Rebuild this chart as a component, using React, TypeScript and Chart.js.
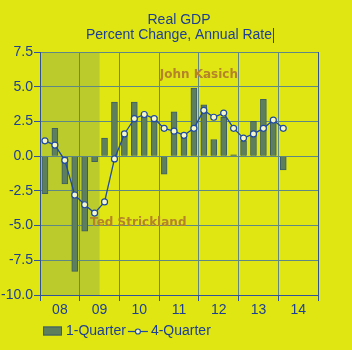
import React, { useEffect, useRef } from "react";
import { Chart, registerables } from "chart.js";

Chart.register(...registerables);

const quarters = [
  "2008Q1", "2008Q2", "2008Q3", "2008Q4",
  "2009Q1", "2009Q2", "2009Q3", "2009Q4",
  "2010Q1", "2010Q2", "2010Q3", "2010Q4",
  "2011Q1", "2011Q2", "2011Q3", "2011Q4",
  "2012Q1", "2012Q2", "2012Q3", "2012Q4",
  "2013Q1", "2013Q2", "2013Q3", "2013Q4",
  "2014Q1", "2014Q2", "2014Q3", "2014Q4",
];
const yearLabels = ["08", "09", "10", "11", "12", "13", "14"];

const oneQuarter = [
  -2.7, 2.0, -2.0, -8.3,
  -5.4, -0.4, 1.3, 3.9,
  1.6, 3.9, 2.8, 2.8,
  -1.3, 3.2, 1.4, 4.9,
  3.7, 1.2, 2.8, 0.1,
  1.1, 2.5, 4.1, 2.6,
  -1.0, null, null, null,
];
const fourQuarter = [
  1.1, 0.8, -0.3, -2.8,
  -3.5, -4.1, -3.3, -0.2,
  1.6, 2.7, 3.0, 2.7,
  2.0, 1.8, 1.5, 2.0,
  3.3, 2.8, 3.1, 2.0,
  1.3, 1.6, 2.0, 2.6,
  2.0, null, null, null,
];

const titleLines = ["Real GDP", "Percent Change, Annual Rate"];
const seriesNames = ["1-Quarter", "4-Quarter"];
// shaded span (quarter indexes, inclusive)
const shadeSpan = [0, 5];
// annotations: [text, quarter position, value]
const annotations: [string, number, number][] = [
  ["John Kasich", 15.5, 5.85],
  ["Ted Strickland", 9.4, -4.78],
];

const BG = "#e0e612";
const SHADE = "#bccb2c";
const BAR = "#5e7f5c";
const BAR_BORDER = "#3e5f62";
const LINE = "#1f4aa3";
const TEXT = "#1d3f93";
const GRID = "#5f8884";
const AXIS = "#2f5299";
const NOTE = "#b5832a";
const FONT = "'Liberation Sans', Arial, sans-serif";

const decorPlugin = {
  id: "decor",
  beforeDraw(chart: any) {
    const { ctx, chartArea, scales } = chart;
    ctx.save();
    ctx.fillStyle = BG;
    ctx.fillRect(0, 0, chart.width, chart.height);
    const xa = scales.x.getPixelForValue(shadeSpan[0] - 0.5);
    const xb = scales.x.getPixelForValue(shadeSpan[1] + 0.5);
    ctx.fillStyle = SHADE;
    ctx.fillRect(xa, chartArea.top, xb - xa, chartArea.bottom - chartArea.top);
    ctx.restore();
  },
  afterDraw(chart: any) {
    const { ctx, scales } = chart;
    ctx.save();
    // title
    ctx.fillStyle = TEXT;
    ctx.font = `14px ${FONT}`;
    ctx.textAlign = "center";
    ctx.textBaseline = "middle";
    const cx = 179;
    ctx.fillText(titleLines[0], cx, 20);
    ctx.fillText(titleLines[1], cx, 35);
    const w2 = ctx.measureText(titleLines[1]).width;
    ctx.strokeStyle = TEXT;
    ctx.lineWidth = 1;
    ctx.beginPath();
    ctx.moveTo(Math.round(cx + w2 / 2) + 1.5, 28);
    ctx.lineTo(Math.round(cx + w2 / 2) + 1.5, 43);
    ctx.stroke();

    // annotations
    ctx.fillStyle = NOTE;
    ctx.font = `bold 12px 'DejaVu Sans', Verdana, sans-serif`;
    for (const [t, q, v] of annotations) {
      ctx.fillText(t, scales.x.getPixelForValue(q), scales.y.getPixelForValue(v));
    }

    // legend
    const ly = 331;
    ctx.fillStyle = BAR;
    ctx.strokeStyle = BAR_BORDER;
    ctx.fillRect(43, ly - 4.5, 19, 9);
    ctx.strokeRect(43.5, ly - 4, 18, 8);
    ctx.fillStyle = TEXT;
    ctx.font = `14px ${FONT}`;
    ctx.textAlign = "left";
    ctx.fillText(seriesNames[0], 66, ly);
    const w1 = ctx.measureText(seriesNames[0]).width;
    const lx = 66 + w1 + 2;
    ctx.strokeStyle = LINE;
    ctx.lineWidth = 1.2;
    ctx.beginPath();
    ctx.moveTo(lx, ly + 0.5);
    ctx.lineTo(lx + 20, ly + 0.5);
    ctx.stroke();
    ctx.beginPath();
    ctx.arc(lx + 10, ly + 0.5, 2.5, 0, Math.PI * 2);
    ctx.fillStyle = "#f4f6c8";
    ctx.fill();
    ctx.stroke();
    ctx.fillStyle = TEXT;
    ctx.fillText(seriesNames[1], lx + 23, ly);
    ctx.restore();
  },
};

export default function App() {
  const ref = useRef<HTMLCanvasElement>(null);
  useEffect(() => {
    if (!ref.current) return;
    const chart = new Chart(ref.current, {
      type: "bar",
      data: {
        labels: quarters,
        datasets: [
          {
            type: "line",
            label: seriesNames[1],
            data: fourQuarter,
            borderColor: LINE,
            borderWidth: 1.3,
            pointRadius: 3,
            pointBorderWidth: 1.2,
            pointBackgroundColor: "#f4f6c8",
            pointBorderColor: LINE,
            tension: 0,
            order: 0,
          } as any,
          {
            type: "bar",
            label: seriesNames[0],
            data: oneQuarter,
            backgroundColor: BAR,
            borderColor: BAR_BORDER,
            borderWidth: 1,
            barThickness: 6,
            order: 1,
          },
        ],
      },
      options: {
        animation: false,
        responsive: false,
        layout: { padding: { top: 52, right: 34, bottom: 28, left: 0 } },
        plugins: { legend: { display: false }, title: { display: false }, tooltip: { enabled: false } },
        scales: {
          x: {
            type: "category",
            offset: true,
            afterFit: (s: any) => { s.height = 27; },
            grid: {
              offset: true,
              drawOnChartArea: true,
              tickLength: 6,
              color: (c: any) => (c.type !== "tick" ? AXIS : c.index % 4 === 0 ? GRID : "rgba(0,0,0,0)"),
              tickColor: (c: any) => (c.type !== "tick" ? AXIS : c.index % 4 === 0 ? AXIS : "rgba(0,0,0,0)"),
            },
            border: { color: AXIS, width: 1 },
            ticks: {
              autoSkip: false,
              maxRotation: 0,
              minRotation: 0,
              labelOffset: 5,
              padding: 1,
              color: TEXT,
              font: { family: FONT, size: 14 },
              callback: (_v: any, i: number) => (i % 4 === 1 ? yearLabels[Math.floor(i / 4)] : ""),
            },
          },
          y: {
            min: -10,
            max: 7.5,
            afterFit: (s: any) => { s.width = 40; },
            grid: { color: GRID, tickColor: AXIS, tickLength: 6 },
            border: { color: AXIS, width: 1 },
            ticks: {
              stepSize: 2.5,
              padding: 1,
              color: TEXT,
              font: { family: FONT, size: 14 },
              callback: (v: any) => Number(v).toFixed(1),
            },
          },
        },
      },
      plugins: [decorPlugin],
    });
    return () => chart.destroy();
  }, []);
  return (
    <div style={{ position: "fixed", left: 0, top: 0, width: 352, height: 350, background: BG }}>
      <canvas ref={ref} width={352} height={350} style={{ display: "block" }} />
    </div>
  );
}
